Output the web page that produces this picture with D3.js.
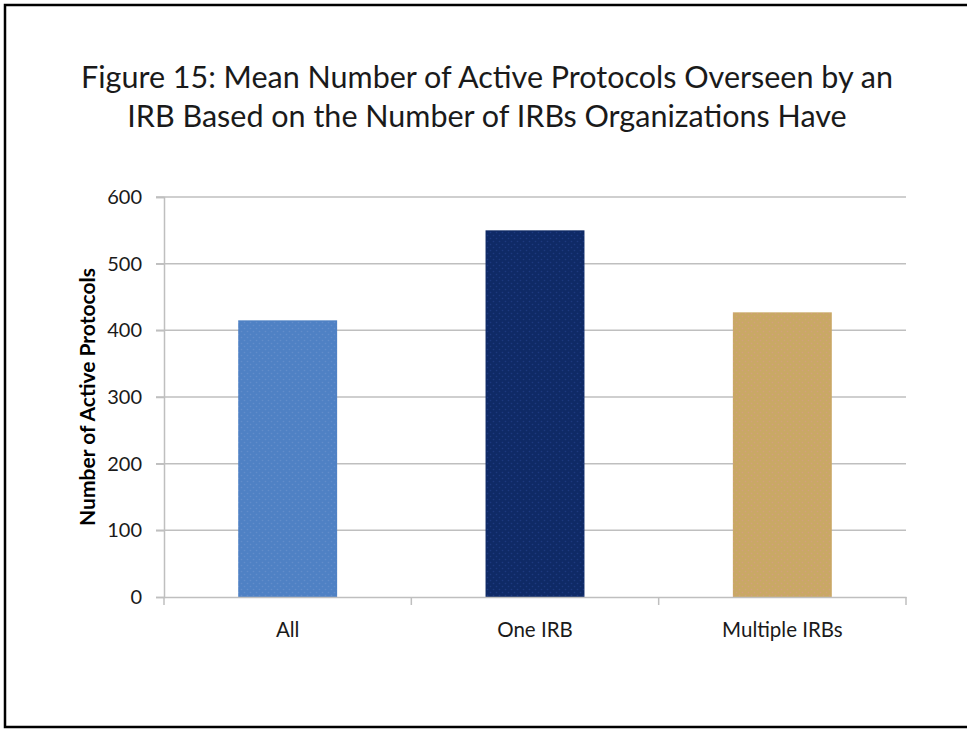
<!DOCTYPE html>
<html><head><meta charset="utf-8">
<script src="https://cdn.jsdelivr.net/npm/d3@7"></script>
<style>body{margin:0;background:#fff}svg{display:block}</style>
</head><body>
<svg id="c" width="967" height="729"></svg>
<script>
const categories = ["All", "One IRB", "Multiple IRBs"];
const values = [415, 550, 427];
const colors = ["#4f81c4", "#0f2a66", "#c9a865"];
const yTicks = [0, 100, 200, 300, 400, 500, 600];
const titleLines = ["Figure 15: Mean Number of Active Protocols Overseen by an", "IRB Based on the Number of IRBs Organizations Have"];
const yTitle = "Number of Active Protocols";

(function () {
const svg = d3.select("#c");
const font = "Lato, 'Open Sans', sans-serif";

// frame
svg.append("rect").attr("x", 5).attr("y", 5).attr("width", 970).attr("height", 722)
  .attr("fill", "#fff").attr("stroke", "#000").attr("stroke-width", 2.5);

const pLeft = 164, pRight = 906, pTop = 197, pBottom = 597;
const x = d3.scaleBand().domain(categories).range([pLeft, pRight]).padding(0);
const y = d3.scaleLinear().domain([0, 600]).range([pBottom, pTop]);

// patterns
const defs = svg.append("defs");
const dotColors = ["#6a93cf", "#24408a", "#d99a8a"];
categories.forEach((c, i) => {
  const p = defs.append("pattern").attr("id", "pat" + i).attr("patternUnits", "userSpaceOnUse")
    .attr("width", 6).attr("height", 6);
  p.append("rect").attr("width", 6).attr("height", 6).attr("fill", colors[i]);
  p.append("circle").attr("cx", 1.5).attr("cy", 1.5).attr("r", 0.8).attr("fill", dotColors[i]).attr("opacity", 0.7);
  p.append("circle").attr("cx", 4.5).attr("cy", 4.5).attr("r", 0.8).attr("fill", dotColors[i]).attr("opacity", 0.7);
});

// gridlines
svg.append("g").selectAll("line").data(yTicks.filter(d => d > 0)).join("line")
  .attr("x1", pLeft - 8).attr("x2", pRight).attr("y1", d => y(d)).attr("y2", d => y(d))
  .attr("stroke", "#bfbfbf").attr("stroke-width", 1.5);

// y axis
const yAxis = svg.append("g").attr("transform", `translate(${pLeft},0)`)
  .call(d3.axisLeft(y).tickValues(yTicks).tickSize(8).tickPadding(6));
yAxis.select(".domain").attr("stroke", "#bfbfbf").attr("stroke-width", 1.5);
yAxis.selectAll(".tick line").attr("stroke", "#bfbfbf").attr("stroke-width", 1.5);
yAxis.selectAll("text").attr("font-family", font).attr("font-size", 20).attr("fill", "#1a1a1a").attr("dx", -8);

// bars
svg.append("g").selectAll("rect").data(values).join("rect")
  .attr("x", (d, i) => x(categories[i]) + x.bandwidth() * 0.3)
  .attr("width", x.bandwidth() * 0.4)
  .attr("y", d => y(d)).attr("height", d => y(0) - y(d))
  .attr("fill", (d, i) => `url(#pat${i})`);

// x axis
const xAxis = svg.append("g").attr("transform", `translate(0,${pBottom})`)
  .call(d3.axisBottom(x).tickSize(0).tickPadding(25));
xAxis.select(".domain").attr("stroke", "#bfbfbf").attr("stroke-width", 1.5);
xAxis.selectAll("text").attr("font-family", font).attr("font-size", 20.5).attr("fill", "#1a1a1a");
const bounds = [pLeft].concat(categories.map(c => x(c) + x.bandwidth()));
svg.append("g").selectAll("line").data(bounds).join("line")
  .attr("x1", d => d).attr("x2", d => d).attr("y1", pBottom).attr("y2", pBottom + 8)
  .attr("stroke", "#bfbfbf").attr("stroke-width", 1.5);

// y title
svg.append("text").attr("transform", `translate(95,${(pTop + pBottom) / 2}) rotate(-90)`)
  .attr("text-anchor", "middle").attr("font-family", font).attr("font-weight", "bold")
  .attr("font-size", 21).attr("fill", "#000").text(yTitle);

// title
svg.append("g").selectAll("text").data(titleLines).join("text")
  .attr("x", 487).attr("y", (d, i) => 88 + i * 39)
  .attr("text-anchor", "middle").attr("font-family", font).attr("font-size", 30.5).attr("fill", "#1a1a1a")
  .text(d => d);
})();
</script>
</body></html>
